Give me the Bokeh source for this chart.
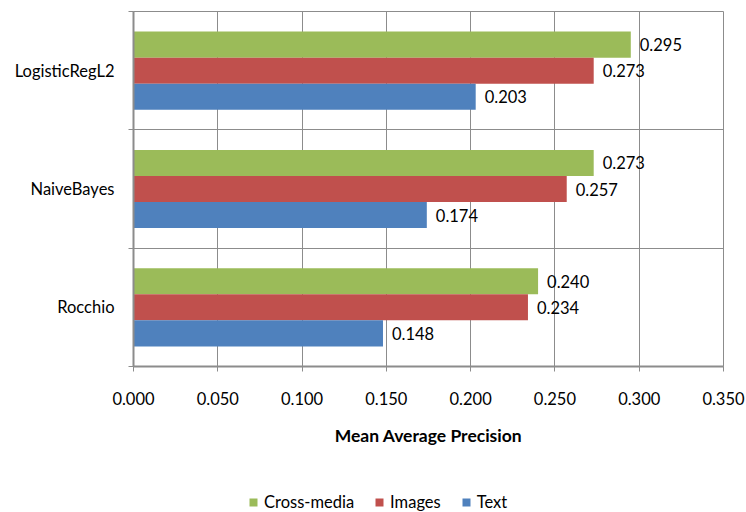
import numpy as np
from bokeh.plotting import figure
from bokeh.layouts import column
from bokeh.models import (ColumnDataSource, Range1d, FixedTicker, NumeralTickFormatter,
                          Legend, LegendItem)
from bokeh.transform import dodge
from bokeh.core.properties import value
from bokeh.embed import file_html
from bokeh.resources import INLINE

# Classifiers, listed bottom to top on the chart
classifiers = ["Rocchio", "NaiveBayes", "LogisticRegL2"]
text_map = [0.148, 0.174, 0.203]
images_map = [0.234, 0.257, 0.273]
crossmedia_map = [0.240, 0.273, 0.295]
x_ticks = [0.0, 0.05, 0.10, 0.15, 0.20, 0.25, 0.30, 0.35]
series_names = ["Cross-media", "Images", "Text"]

FONT = "Lato"
GRID = "#8c8c8c"
COLORS = {"Cross-media": "#9BBB59", "Images": "#C0504D", "Text": "#4F81BD"}

n = len(classifiers)
centers = np.arange(n) + 0.5
bounds = np.arange(n + 1).astype(float)

src = ColumnDataSource(dict(
    y=centers,
    text=text_map,
    images=images_map,
    cross=crossmedia_map,
    text_lbl=[f"{v:.3f}" for v in text_map],
    images_lbl=[f"{v:.3f}" for v in images_map],
    cross_lbl=[f"{v:.3f}" for v in crossmedia_map],
))

p = figure(width=746, height=466, output_backend="svg", toolbar_location=None,
           x_range=Range1d(x_ticks[0], x_ticks[-1]), y_range=Range1d(0, n),
           min_border_left=133, min_border_right=23, min_border_top=11,
           min_border_bottom=100, outline_line_color=GRID)

bar_h = 0.22
series = [("cross", "cross_lbl", "Cross-media", bar_h),
          ("images", "images_lbl", "Images", 0.0),
          ("text", "text_lbl", "Text", -bar_h)]

for field, lbl, name, off in series:
    p.hbar(y=dodge("y", off), right=field, left=0, height=bar_h, source=src,
           fill_color=COLORS[name], line_color=None)
    p.text(x=field, y=dodge("y", off), text=lbl, source=src, x_offset=9, y_offset=0,
           text_baseline="middle", text_align="left", text_font=value(FONT),
           text_font_size="16.5px", text_color="#000000")

# x axis
p.xaxis.ticker = FixedTicker(ticks=x_ticks)
p.xaxis.formatter = NumeralTickFormatter(format="0.000")
p.xaxis.axis_label = "Mean Average Precision"
p.xaxis.axis_label_text_font = FONT
p.xaxis.axis_label_text_font_style = "bold"
p.xaxis.axis_label_text_font_size = "17.5px"
p.xaxis.axis_label_text_color = "#000000"
p.xaxis.axis_label_standoff = 17
p.xaxis.major_label_text_font = FONT
p.xaxis.major_label_text_font_size = "16.5px"
p.xaxis.major_label_text_color = "#000000"
p.xaxis.major_label_standoff = 20
p.xaxis.major_tick_out = 5
p.xaxis.major_tick_in = 0

# y axis: labels at band centres, ticks at band boundaries
p.yaxis.ticker = FixedTicker(ticks=list(centers), minor_ticks=list(bounds))
p.yaxis.major_label_overrides = {float(c): name for c, name in zip(centers, classifiers)}
p.yaxis.major_label_text_font = FONT
p.yaxis.major_label_text_font_size = "16.5px"
p.yaxis.major_label_text_color = "#000000"
p.yaxis.major_label_standoff = 14
p.yaxis.major_tick_out = 0
p.yaxis.major_tick_in = 0
p.yaxis.minor_tick_out = 5
p.yaxis.minor_tick_in = 0

for ax in (p.xaxis, p.yaxis):
    ax.axis_line_color = GRID
    ax.axis_line_width = 2
    ax.major_tick_line_color = GRID
p.xaxis.minor_tick_line_color = None
p.yaxis.minor_tick_line_color = GRID

p.xgrid.ticker = FixedTicker(ticks=x_ticks)
p.xgrid.grid_line_color = GRID
p.ygrid.ticker = FixedTicker(ticks=list(centers), minor_ticks=list(bounds))
p.ygrid.grid_line_color = None
p.ygrid.minor_grid_line_color = GRID

# legend strip below the chart (its frame lines up with the chart's frame)
leg = figure(width=746, height=46, output_backend="svg", toolbar_location=None,
             min_border_left=133, min_border_right=23, min_border_top=0,
             min_border_bottom=0, outline_line_color=None,
             x_range=Range1d(0, 1), y_range=Range1d(0, 1))
leg.axis.visible = False
leg.grid.visible = False
swatches = [leg.hbar(y="y", right=field, left=0, height=bar_h, source=src,
                     fill_color=COLORS[name], line_color=None, visible=False)
            for field, _, name, _ in series]
legend = Legend(items=[LegendItem(label=name, renderers=[r])
                       for name, r in zip(series_names, swatches)],
                orientation="horizontal", location=(115, 0),
                label_text_font=FONT, label_text_font_size="16.5px",
                label_text_color="#000000",
                label_height=20, glyph_width=10, glyph_height=10,
                label_standoff=6, spacing=20,
                inactive_fill_alpha=0,
                border_line_color=None, background_fill_alpha=0,
                padding=2, margin=0)
leg.add_layout(legend, "center")

layout = column(p, leg, spacing=0)
open("out.html", "w").write(file_html(layout, INLINE))
